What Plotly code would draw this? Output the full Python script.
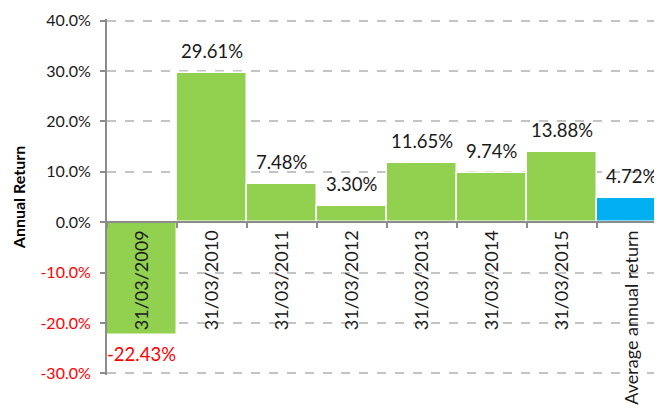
import plotly.graph_objects as go

categories = ["31/03/2009", "31/03/2010", "31/03/2011", "31/03/2012", "31/03/2013",
              "31/03/2014", "31/03/2015", "Average annual return"]
returns = [-22.43, 29.61, 7.48, 3.30, 11.65, 9.74, 13.88, 4.72]
bar_colors = ["#92D050"] * 7 + ["#00B0F0"]
y_tick_vals = [-30, -20, -10, 0, 10, 20, 30, 40]

FONT = "Lato"

y_tick_text = [
    (f'<span style="color:#FF0000">{v:.1f}%</span>' if v < 0 else f"{v:.1f}%")
    for v in y_tick_vals
]

fig = go.Figure()
fig.add_trace(go.Bar(
    x=categories, y=returns,
    marker=dict(color=bar_colors, line=dict(color="white", width=1.5)),
    hoverinfo="skip",
))

for c, v in zip(categories, returns):
    if v >= 0:
        fig.add_annotation(x=c, y=v, text=f"{v:.2f}%", showarrow=False,
                           yanchor="bottom", yshift=9,
                           font=dict(family=FONT, size=18.5, color="#1a1a1a"))
    else:
        fig.add_annotation(x=c, y=v, text=f"{v:.2f}%", showarrow=False,
                           yanchor="top", yshift=-6,
                           font=dict(family=FONT, size=18.5, color="#FF0000"))

ymin, ymax = -30.3, 40.3
zero_pos = (0 - ymin) / (ymax - ymin)

fig.update_layout(
    width=654, height=406,
    margin=dict(l=99, r=0, t=10.5, b=38.5, autoexpand=False),
    paper_bgcolor="white", plot_bgcolor="white",
    bargap=0,
    showlegend=False,
    font=dict(family=FONT, size=17, color="#1a1a1a"),
    xaxis=dict(
        type="category",
        range=[-0.5, 7.43],
        anchor="free", position=zero_pos,
        automargin=False,
        showline=True, linecolor="#8c8c8c", linewidth=2,
        ticks="outside", ticklen=5, tickcolor="#8c8c8c", tickwidth=2,
        tickson="boundaries",
        tickangle=-90,
        showgrid=False,
        tickfont=dict(family=FONT, size=18, color="#1a1a1a"),
    ),
    yaxis=dict(
        range=[ymin, ymax],
        automargin=False,
        tickvals=y_tick_vals, ticktext=y_tick_text,
        showline=True, linecolor="#8c8c8c", linewidth=2,
        ticks="outside", ticklen=5, tickcolor="#8c8c8c", tickwidth=2,
        ticklabelstandoff=6,
        showgrid=True, gridcolor="#c4c4c4", griddash="dash", gridwidth=1.5,
        zeroline=False,
        tickfont=dict(family=FONT, size=16, color="#1a1a1a"),
        title=dict(text="<b>Annual Return</b>", font=dict(family=FONT, size=16, color="#000"),
                   standoff=11),
    ),
)

fig.write_html("out.html")
